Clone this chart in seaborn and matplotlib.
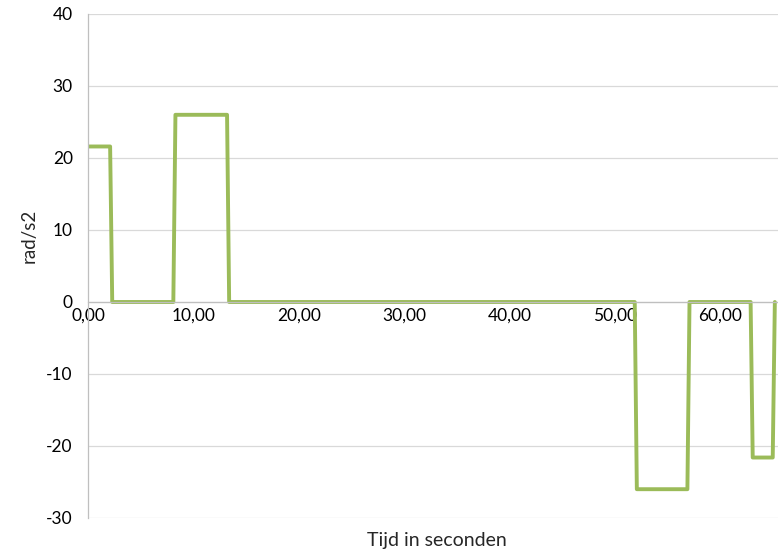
import numpy as np
import pandas as pd
import seaborn as sns
import matplotlib.pyplot as plt
from matplotlib.ticker import FuncFormatter

# time (s) and angular acceleration (rad/s2)
tijd = [0, 2.1, 2.3, 8.1, 8.3, 13.2, 13.4, 51.9, 52.1, 56.9, 57.1, 62.9, 63.1, 65.0, 65.2]
versnelling = [21.6, 21.6, 0, 0, 26, 26, 0, 0, -26, -26, 0, 0, -21.6, -21.6, 0]

x_ticks = [0, 10, 20, 30, 40, 50, 60]
y_ticks = [-30, -20, -10, 0, 10, 20, 30, 40]

df = pd.DataFrame({"tijd": tijd, "versnelling": versnelling})

sns.set_style("white")
plt.rcParams['font.family'] = ['Lato', 'DejaVu Sans']
plt.rcParams['axes.unicode_minus'] = False

fig = plt.figure(figsize=(7.78, 5.54), dpi=100)
ax = fig.add_axes([88 / 778, 1 - 518 / 554, 690 / 778, 504 / 554])

sns.lineplot(data=df, x="tijd", y="versnelling", ax=ax, color="#9BBB59",
             linewidth=2.8, estimator=None, sort=False)

ax.set_xlim(0, 65.5)
ax.set_ylim(-30, 40)
ax.set_xticks(x_ticks)
ax.set_yticks(y_ticks)
ax.xaxis.set_major_formatter(FuncFormatter(lambda v, p: f"{v:.2f}".replace(".", ",")))

ax.grid(True, axis="y", color="#D9D9D9", linewidth=0.9)
ax.grid(False, axis="x")
ax.set_axisbelow(True)

for s in ["top", "right"]:
    ax.spines[s].set_visible(False)
ax.spines["bottom"].set_position(("data", 0))
ax.spines["bottom"].set_color("#BFBFBF")
ax.spines["bottom"].set_linewidth(0.9)
ax.spines["left"].set_color("#BFBFBF")
ax.spines["left"].set_linewidth(0.9)

ax.tick_params(axis="x", length=0, pad=4, labelsize=12.5, colors="#000000")
ax.tick_params(axis="y", length=0, pad=11, labelsize=12.5, colors="#000000")

ax.set_xlabel("Tijd in seconden", fontsize=14, va="center")
ax.set_ylabel("rad/s2", fontsize=13.5, va="center")
ax.xaxis.set_label_coords(0.505, -0.044)
ax.yaxis.set_label_coords(-0.086, 0.56)

plt.savefig("out.png", dpi=100)
